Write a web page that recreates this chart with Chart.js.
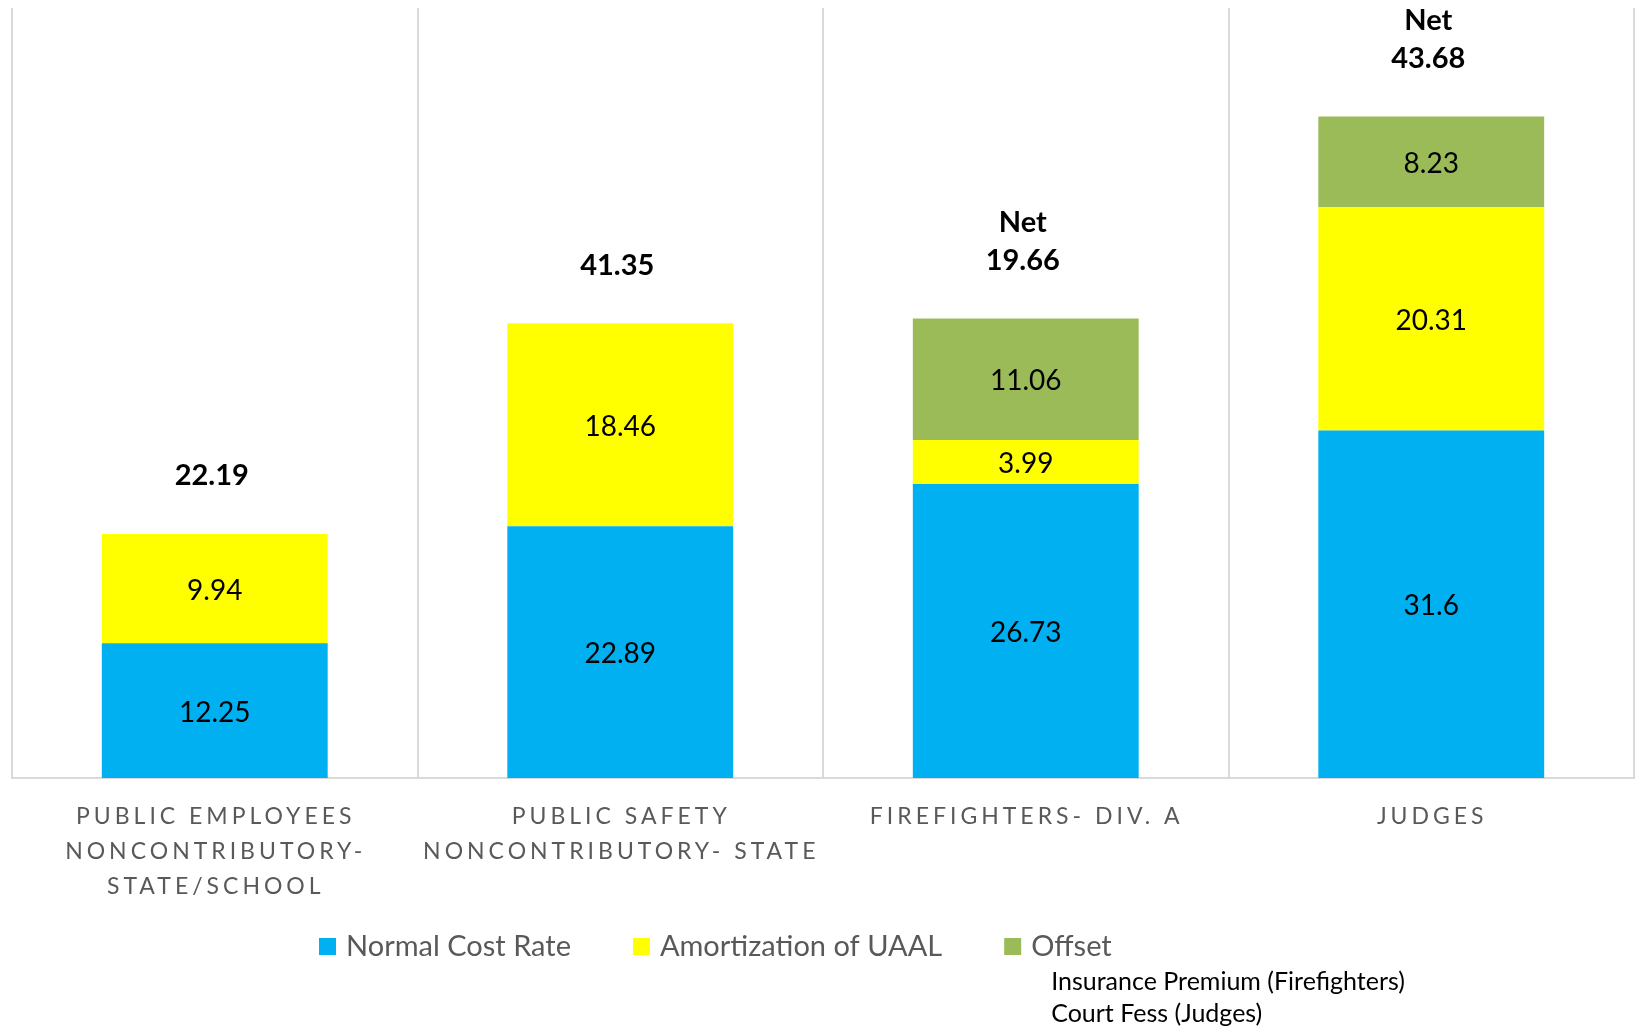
<!DOCTYPE html>
<html>
<head>
<meta charset="utf-8">
<script src="https://cdn.jsdelivr.net/npm/chart.js@4"></script>
<style>
  html, body { margin: 0; padding: 0; background: #ffffff; }
  canvas { display: block; }
</style>
</head>
<body>
<canvas id="chartCustos" width="1637" height="1028"></canvas>
<script>
const categorias = [
  ["PUBLIC EMPLOYEES", "NONCONTRIBUTORY-", "STATE/SCHOOL"],
  ["PUBLIC SAFETY", "NONCONTRIBUTORY- STATE"],
  ["FIREFIGHTERS- DIV. A"],
  ["JUDGES"]
];
const normalCost = [12.25, 22.89, 26.73, 31.6];
const amortizacao = [9.94, 18.46, 3.99, 20.31];
const offset = [0, 0, 11.06, 8.23];
const nomesSeries = ["Normal Cost Rate", "Amortization of UAAL", "Offset"];
const notasOffset = ["Insurance Premium (Firefighters)", "Court Fess (Judges)"];
const coresSeries = ["#00B0F0", "#FFFF00", "#9BBB59"];

const FONTE = "Lato, 'Open Sans', sans-serif";

function arredondar(v) {
  return String(Math.round(v * 100) / 100);
}

// valor no meio de cada segmento da pilha
const rotulosSegmentos = {
  id: "rotulosSegmentos",
  afterDatasetsDraw(chart) {
    const ctx = chart.ctx;
    ctx.save();
    ctx.font = `28px ${FONTE}`;
    ctx.fillStyle = "#000000";
    ctx.textAlign = "center";
    ctx.textBaseline = "middle";
    chart.data.datasets.forEach((ds, i) => {
      const meta = chart.getDatasetMeta(i);
      meta.data.forEach((bar, j) => {
        const v = ds.data[j];
        if (!v) return;
        ctx.fillText(arredondar(v), bar.x, (bar.y + bar.base) / 2 + 2);
      });
    });
    ctx.restore();
  }
};

// total liquido acima de cada barra (com "Net" quando ha offset)
const rotulosTotais = {
  id: "rotulosTotais",
  afterDatasetsDraw(chart) {
    const ctx = chart.ctx;
    const y = chart.scales.y;
    const meta = chart.getDatasetMeta(0);
    ctx.save();
    ctx.font = `bold 29px ${FONTE}`;
    ctx.fillStyle = "#000000";
    ctx.textAlign = "center";
    ctx.textBaseline = "middle";
    categorias.forEach((c, i) => {
      const topo = normalCost[i] + amortizacao[i] + offset[i];
      const liquido = normalCost[i] + amortizacao[i] - offset[i];
      const px = meta.data[i].x - 3;
      const py = y.getPixelForValue(topo) - 58;
      ctx.fillText(arredondar(liquido), px, py);
      if (offset[i] > 0) ctx.fillText("Net", px, py - 38);
    });
    ctx.restore();
  }
};

// nomes das categorias com espacamento entre letras
const rotulosEixo = {
  id: "rotulosEixo",
  afterDraw(chart) {
    const ctx = chart.ctx;
    const x = chart.scales.x;
    const base = chart.chartArea.bottom;
    ctx.save();
    ctx.font = `23px ${FONTE}`;
    ctx.fillStyle = "#595959";
    ctx.textAlign = "center";
    ctx.textBaseline = "middle";
    ctx.letterSpacing = "4px";
    categorias.forEach((linhas, i) => {
      const px = x.getPixelForTick(i) + 1;
      linhas.forEach((t, k) => {
        ctx.fillText(t, px, base + 39 + k * 35);
      });
    });
    ctx.restore();
  }
};

// legenda desenhada na base, com as notas do offset
const legenda = {
  id: "legenda",
  afterDraw(chart) {
    const ctx = chart.ctx;
    const yLeg = chart.chartArea.bottom + 168;
    let px = 319;
    ctx.save();
    ctx.font = `29px ${FONTE}`;
    ctx.textBaseline = "middle";
    ctx.textAlign = "left";
    let xOffset = px;
    nomesSeries.forEach((nome, i) => {
      ctx.fillStyle = coresSeries[i];
      ctx.fillRect(px, yLeg - 8, 17, 17);
      ctx.fillStyle = "#595959";
      ctx.fillText(nome, px + 27, yLeg + 1);
      if (i === 2) xOffset = px;
      px += 27 + ctx.measureText(nome).width + 62;
    });
    ctx.font = `25px ${FONTE}`;
    ctx.fillStyle = "#000000";
    notasOffset.forEach((nota, k) => {
      ctx.fillText(nota, xOffset + 47, yLeg + 36 + k * 32);
    });
    ctx.restore();
  }
};

new Chart(document.getElementById("chartCustos"), {
  type: "bar",
  data: {
    labels: categorias,
    datasets: [
      { label: nomesSeries[0], data: normalCost, backgroundColor: coresSeries[0] },
      { label: nomesSeries[1], data: amortizacao, backgroundColor: coresSeries[1] },
      { label: nomesSeries[2], data: offset, backgroundColor: coresSeries[2] }
    ]
  },
  options: {
    responsive: false,
    animation: false,
    layout: {
      padding: { left: 12, right: 3, top: 8, bottom: 250 }
    },
    datasets: {
      bar: { categoryPercentage: 1, barPercentage: 0.557 }
    },
    plugins: {
      legend: { display: false },
      tooltip: { enabled: false }
    },
    scales: {
      x: {
        stacked: true,
        ticks: { display: false },
        grid: {
          offset: true,
          color: "#D9D9D9",
          lineWidth: 2,
          drawTicks: false
        },
        border: { color: "#D9D9D9", width: 2 }
      },
      y: {
        stacked: true,
        display: false,
        min: 0,
        max: 70
      }
    }
  },
  plugins: [rotulosSegmentos, rotulosTotais, rotulosEixo, legenda]
});
</script>
</body>
</html>
